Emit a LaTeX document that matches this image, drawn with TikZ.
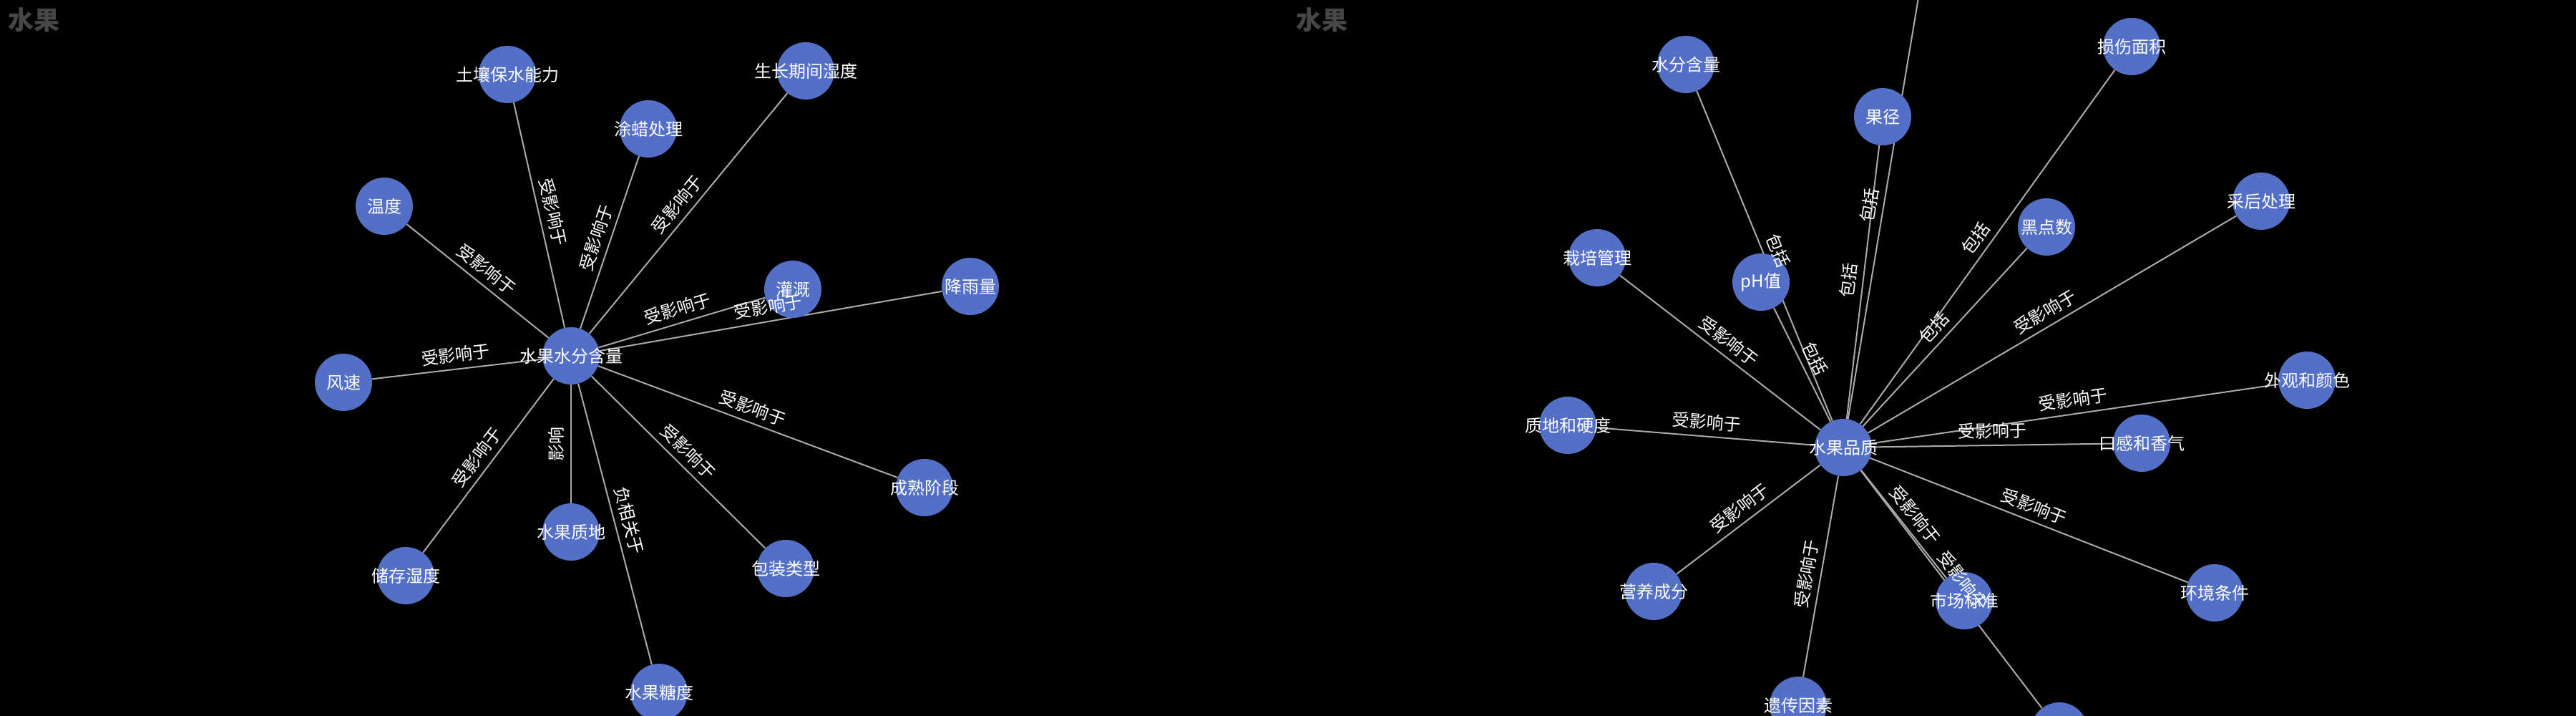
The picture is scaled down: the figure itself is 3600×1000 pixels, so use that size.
\documentclass[tikz,border=0pt]{standalone}
\usepackage{fontspec}
\setmainfont{Noto Sans CJK SC}
\definecolor{nodeblue}{HTML}{5470C6}
\definecolor{edgegray}{HTML}{AAAAAA}
\definecolor{titlegray}{HTML}{464646}
\pgfdeclarelayer{bg}
\pgfsetlayers{bg,main}
\newcommand\nt[1]{\makebox[0pt]{#1}}
\newcommand\et[1]{#1}
\tikzset{
  nd/.style={circle, fill=nodeblue, minimum size=80pt, inner sep=0pt, text=white,
    font=\fontsize{24}{24}\selectfont},
  edge/.style={draw=edgegray, line width=2pt},
  elbl/.style={midway, sloped, above=9pt, inner sep=0pt, text=white,
    font=\fontsize{24}{24}\selectfont},
  ttl/.style={anchor=base west, inner sep=0pt, text=titlegray,
    font=\fontsize{36}{36}\selectfont\bfseries},
}
\begin{document}
\begin{tikzpicture}[x=1pt, y=1pt]
\useasboundingbox (0,-1000) rectangle (3600,0);
\begin{pgfonlayer}{bg}
  \fill[black] (0,-1000) rectangle (3600,0);
\end{pgfonlayer}

% titles
\node[ttl] (t1) at (11,-42) {水果};
\node[ttl] (t2) at (1811,-42) {水果};

% ---------- left graph ----------
\node[nd] (c1)  at (798,-497)  {\nt{水果水分含量}};
\node[nd] (a1)  at (709,-104)  {\nt{土壤保水能力}};
\node[nd] (a2)  at (906,-180)  {\nt{涂蜡处理}};
\node[nd] (a3)  at (1126,-99)  {\nt{生长期间湿度}};
\node[nd] (a4)  at (537,-288)  {\nt{温度}};
\node[nd] (a5)  at (1108,-404) {\nt{灌溉}};
\node[nd] (a6)  at (1356,-400) {\nt{降雨量}};
\node[nd] (a7)  at (480,-534)  {\nt{风速}};
\node[nd] (a8)  at (1292,-681) {\nt{成熟阶段}};
\node[nd] (a9)  at (798,-743)  {\nt{水果质地}};
\node[nd] (a10) at (567,-804)  {\nt{储存湿度}};
\node[nd] (a11) at (1098,-794) {\nt{包装类型}};
\node[nd] (a12) at (921,-967)  {\nt{水果糖度}};

% ---------- right graph ----------
\node[nd] (c2)  at (2576,-625) {\nt{水果品质}};
\node[nd] (b1)  at (2356,-90)  {\nt{水分含量}};
\node[nd] (b2)  at (2461,-394) {\nt{pH值}};
\node[nd] (b3)  at (2631,-163) {\nt{果径}};
\coordinate (b4) at (2688,45);
\node[nd] (b5)  at (2979,-65)  {\nt{损伤面积}};
\node[nd] (b6)  at (2860,-317) {\nt{黑点数}};
\node[nd] (b7)  at (3160,-281) {\nt{采后处理}};
\node[nd] (b8)  at (2232,-360) {\nt{栽培管理}};
\node[nd] (b9)  at (3224,-531) {\nt{外观和颜色}};
\node[nd] (b10) at (2191,-594) {\nt{质地和硬度}};
\node[nd] (b11) at (2993,-619) {\nt{口感和香气}};
\node[nd] (b12) at (2311,-826) {\nt{营养成分}};
\node[nd] (b13) at (2745,-839) {\nt{市场标准}};
\node[nd] (b14) at (2878,-1021) {};
\node[nd] (b15) at (3095,-828) {\nt{环境条件}};
\node[nd] (b16) at (2513,-985) {\nt{遗传因素}};

% ---------- edges ----------
\begin{pgfonlayer}{bg}
  \foreach \n in {a1,a2,a3,a4,a5,a6,a7,a8,a9,a10,a11,a12}
    \draw[edge] (c1) -- (\n);
  \foreach \n in {b1,b2,b3,b5,b6,b7,b8,b9,b10,b11,b12,b13,b14,b15,b16}
    \draw[edge] (c2) -- (\n);
  \draw[edge] (c2) -- (b4);
\end{pgfonlayer}

% ---------- edge labels ----------
\foreach \n in {a1,a2,a3,a4,a5,a6,a7,a8,a10,a11}
  \path (c1.center) -- (\n.center) node[elbl] {\et{受影响于}};
\path (a9.center) -- (c1.center) node[elbl] {\et{影响}};
\path (c1.center) -- (a12.center) node[elbl] {\et{负相关于}};

\foreach \n in {b1,b2,b3,b5,b6}
  \path (c2.center) -- (\n.center) node[elbl] {\et{包括}};
\path (c2.center) -- (b4) node[elbl] {\et{包括}};
\foreach \n in {b7,b8,b9,b10,b11,b12,b13,b14,b15,b16}
  \path (c2.center) -- (\n.center) node[elbl] {\et{受影响于}};
\end{tikzpicture}
\end{document}
